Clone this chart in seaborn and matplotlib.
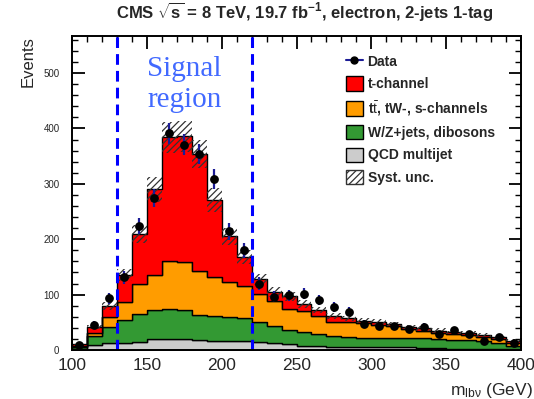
import numpy as np
import pandas as pd
import matplotlib
matplotlib.use("Agg")
import matplotlib.pyplot as plt
from matplotlib.lines import Line2D
from matplotlib.patches import Patch
from matplotlib.ticker import MultipleLocator
import seaborn as sns

# m_lbv binning (GeV)
bin_lo = list(range(100, 400, 10))
bin_width = 10

# expected yields per bin for each process
t_channel = [3, 11, 21, 49, 90, 155, 223, 227, 211, 140, 83, 53, 27, 17, 23,
             13, 11, 10, 6, 5, 5, 4, 4, 4, 4, 4, 4, 4, 4, 4]
ttbar_tw_s = [2, 6, 17, 31, 54, 63, 87, 87, 79, 70, 62, 58, 51, 45, 37,
              37, 33, 26, 28, 26, 25, 21, 16, 13, 12, 10, 9, 7, 7, 5]
wz_diboson = [3, 16, 30, 43, 51, 53, 54, 52, 46, 44, 43, 40, 35, 31, 27,
              25, 21, 19, 17, 17, 16, 17, 17, 18, 15, 16, 16, 14, 11, 7]
qcd = [2, 9, 12, 12, 14, 19, 20, 20, 18, 17, 17, 17, 15, 12, 10,
       8, 7, 6, 6, 5, 5, 5, 5, 4, 4, 2, 2, 2, 1, 1]
syst_unc = [1, 4, 7, 11, 16, 22, 28, 28, 26, 21, 16, 13, 10, 9, 8,
            7, 6, 5, 5, 5, 5, 4, 4, 4, 4, 3, 3, 3, 3, 2]
data_obs = [9, 46, 93, 131, 224, 274, 391, 371, 354, 309, 214, 180, 120, 96, 99,
            102, 90, 78, 69, 47, 43, 43, 38, 42, 28, 36, 29, 17, 23, 12]

proc_names = ["t-channel", r"t$\bar{\rm t}$, tW-, s-channels",
              "W/Z+jets, dibosons", "QCD multijet"]
proc_colors = ["#ff0000", "#ff9c00", "#339933", "#cccccc"]
signal_window = [130, 220]

sns.set_style("ticks")
plt.rcParams["font.family"] = ["Liberation Sans", "DejaVu Sans"]
plt.rcParams["mathtext.fontset"] = "custom"
plt.rcParams["mathtext.rm"] = "Liberation Sans"
plt.rcParams["mathtext.it"] = "Liberation Sans:italic"
plt.rcParams["mathtext.bf"] = "Liberation Sans:bold"
plt.rcParams["hatch.linewidth"] = 0.9

edges = [float(e) for e in range(bin_lo[0], bin_lo[-1] + 2 * bin_width, bin_width)]
edges_arr = np.array(edges)
centers = np.array(bin_lo, dtype=float) + bin_width / 2

frames = []
for name, vals in zip(proc_names, [t_channel, ttbar_tw_s, wz_diboson, qcd]):
    frames.append(pd.DataFrame({"mlbv": centers, "events": np.array(vals, dtype=float),
                                "process": name}))
mc = pd.concat(frames, ignore_index=True)

fig = plt.figure(figsize=(5.34, 3.99), dpi=100)
ax = fig.add_axes([72 / 534, 1 - 350 / 399, 449 / 534, 314 / 399])

sns.histplot(data=mc, x="mlbv", weights="events", hue="process",
             hue_order=proc_names, palette=proc_colors, multiple="stack",
             bins=edges, element="step", alpha=1, edgecolor="black",
             linewidth=1.0, legend=False, ax=ax)

total = np.array(t_channel) + np.array(ttbar_tw_s) + np.array(wz_diboson) + np.array(qcd)
unc = np.array(syst_unc)
lo = np.append(total - unc, total[-1] - unc[-1])
hi = np.append(total + unc, total[-1] + unc[-1])
ax.fill_between(edges_arr, lo, hi, step="post", facecolor="none",
                edgecolor="#333333", hatch="/////", linewidth=0, zorder=5)

# observed data with Poisson errors
data_arr = np.array(data_obs, dtype=float)
ax.errorbar(centers, data_arr, yerr=np.sqrt(data_arr), fmt="none",
            ecolor="#1c1c96", elinewidth=1.6, capsize=0, zorder=8)
sns.scatterplot(x=centers, y=data_arr, color="black", s=40, edgecolor="black",
                linewidth=0, zorder=9, ax=ax)

# signal region boundaries
for xv in signal_window:
    ax.axvline(xv, color="#0000ff", lw=2.2, ls=(0, (3.5, 2)), zorder=7)
ax.text(175, 494, "Signal", color="#4169ff", fontsize=21,
        family="Liberation Serif", ha="center", va="baseline")
ax.text(175, 438, "region", color="#4169ff", fontsize=21,
        family="Liberation Serif", ha="center", va="baseline")

ax.set_xlim(100, 400)
ax.set_ylim(0, 567)
ax.set_xlabel("")
ax.set_ylabel("")
ax.xaxis.set_major_locator(MultipleLocator(50))
ax.xaxis.set_minor_locator(MultipleLocator(10))
ax.yaxis.set_major_locator(MultipleLocator(100))
ax.yaxis.set_minor_locator(MultipleLocator(20))
ax.tick_params(which="both", direction="in", top=True, right=True, color="black")
ax.tick_params(which="major", length=9, width=1.3)
ax.tick_params(which="minor", length=4.5, width=1.0)
ax.tick_params(axis="x", labelsize=12.5, pad=6)
ax.tick_params(axis="y", labelsize=7, pad=9)
for sp in ax.spines.values():
    sp.set_visible(True)
    sp.set_linewidth(1.4)
    sp.set_color("black")
    sp.set_zorder(10)

fig.text(305 / 534, 1 - 18 / 399,
         r"CMS $\mathbf{\sqrt{s}}$ = 8 TeV, 19.7 fb$^{\mathbf{-1}}$, electron, 2-jets 1-tag",
         ha="center", va="baseline", fontsize=12, fontweight="bold")
fig.text(533 / 534, 1 - 395 / 399, r"m$_{\mathrm{lb\nu}}$ (GeV)",
         ha="right", va="baseline", fontsize=12.5)
fig.text(28 / 534, 1 - 36 / 399, "Events", rotation=90,
         ha="center", va="top", fontsize=12)

handles = [Line2D([0], [0], color="#1c1c96", lw=1.5, marker="o",
                  mfc="black", mec="black", ms=5)]
for c in proc_colors:
    handles.append(Patch(facecolor=c, edgecolor="black", lw=1.0))
handles.append(Patch(facecolor="white", edgecolor="#333333", hatch="/////", lw=1.0))
labels = ["Data"] + proc_names + ["Syst. unc."]
fig.legend(handles, labels, loc="upper left",
           bbox_to_anchor=(346 / 534, 1 - 54 / 399), frameon=False,
           borderpad=0, borderaxespad=0, handlelength=1.2, handleheight=1.2,
           handletextpad=0.35, labelspacing=0.55,
           prop={"size": 10, "weight": "bold"})

fig.savefig("out.png", dpi=100)
